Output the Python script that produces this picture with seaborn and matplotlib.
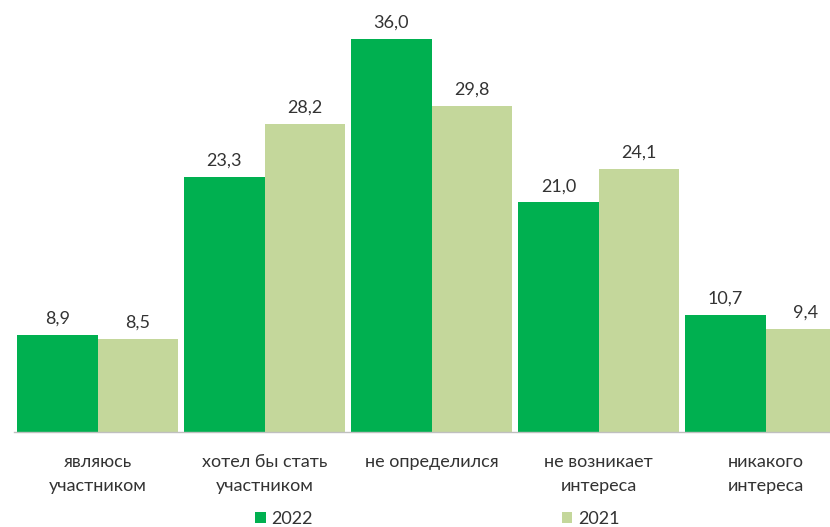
import pandas as pd
import matplotlib.pyplot as plt
import seaborn as sns
from matplotlib.patches import Patch

# данные опроса, %
categories = ["являюсь\nучастником", "хотел бы стать\nучастником", "не определился",
              "не возникает\nинтереса", "никакого\nинтереса"]
years = ["2022", "2021"]
values_2022 = [8.9, 23.3, 36.0, 21.0, 10.7]
values_2021 = [8.5, 28.2, 29.8, 24.1, 9.4]
colors = {"2022": "#00B050", "2021": "#C4D79B"}

df = pd.DataFrame({
    "category": categories * 2,
    "year": ["2022"] * len(categories) + ["2021"] * len(categories),
    "value": values_2022 + values_2021,
})

sns.set_style("white")
plt.rcParams['font.family'] = ['Lato', 'DejaVu Sans']
text_color = "#333333"

fig = plt.figure(figsize=(8.3, 5.27), dpi=100)
# область графика немного обрезана справа, как в исходнике
ax = fig.add_axes([14 / 830, 95 / 527, 835 / 830, 435 / 527])

sns.barplot(data=df, x="category", y="value", hue="year", hue_order=years,
            palette=colors, width=0.96, saturation=1, ax=ax, legend=False,
            linewidth=0, edgecolor="none")

for cont in ax.containers:
    labels = [f"{v:.1f}".replace(".", ",") for v in cont.datavalues]
    ax.bar_label(cont, labels=labels, padding=6, fontsize=13, color=text_color)

ax.set_xlim(-0.5, 4.5)
ax.set_ylim(0, 39.8)
ax.set_xlabel("")
ax.set_ylabel("")
ax.set_yticks([])
for side in ["top", "right", "left"]:
    ax.spines[side].set_visible(False)
ax.spines["bottom"].set_color("#BFBFBF")
ax.spines["bottom"].set_linewidth(1)

ax.tick_params(axis="x", which="major", length=0, pad=16, labelsize=13,
               labelcolor=text_color)
ax.set_xticks(range(len(categories)))
ax.set_xticklabels(categories, linespacing=1.6)
ax.set_xticks([0.5, 1.5, 2.5, 3.5], minor=True)
ax.tick_params(axis="x", which="minor", length=5, color="#BFBFBF", width=1)

handles = [Patch(facecolor=colors[y], edgecolor="none", label=y) for y in years]
fig.legend(handles=handles, loc="center", bbox_to_anchor=(437 / 830, 1 - 519 / 527),
           ncol=2, frameon=False, fontsize=13, labelcolor=text_color,
           handlelength=0.6, handleheight=0.6, handletextpad=0.3, columnspacing=13.8)

fig.savefig("out.png", dpi=100)
